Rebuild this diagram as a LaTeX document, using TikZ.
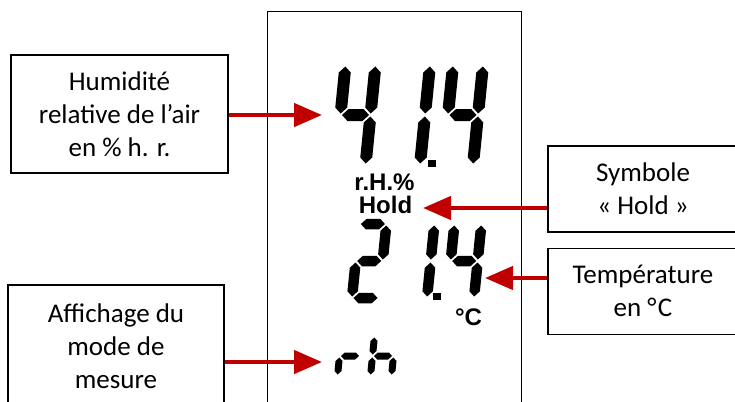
\documentclass[tikz,border=0pt]{standalone}
\usepackage{fontspec}
\usetikzlibrary{arrows.meta,positioning}
\newfontfamily\boxfont{Carlito}
\newfontfamily\lcdfont{Liberation Sans}
\definecolor{arrowred}{HTML}{C00000}

% seven-segment helpers (local units: pt, y up)
\newcommand{\sgap}{1.5}
\newcommand{\segh}[3]{\fill ({#1+\sgap},{#3}) -- ({#1+\sgap+\sht},{#3+\sht})
  -- ({#2-\sgap-\sht},{#3+\sht}) -- ({#2-\sgap},{#3})
  -- ({#2-\sgap-\sht},{#3-\sht}) -- ({#1+\sgap+\sht},{#3-\sht}) -- cycle;}
\newcommand{\segv}[3]{\fill ({#1},{#2+\sgap}) -- ({#1+\sht},{#2+\sgap+\sht})
  -- ({#1+\sht},{#3-\sgap-\sht}) -- ({#1},{#3-\sgap})
  -- ({#1-\sht},{#3-\sgap-\sht}) -- ({#1-\sht},{#2+\sgap+\sht}) -- cycle;}
\newcommand{\sega}{\segh{0}{\dw}{2*\dh}}
\newcommand{\segb}{\segv{\dw}{\dh}{2*\dh}}
\newcommand{\segc}{\segv{\dw}{0}{\dh}}
\newcommand{\segd}{\segh{0}{\dw}{0}}
\newcommand{\sege}{\segv{0}{0}{\dh}}
\newcommand{\segf}{\segv{0}{\dh}{2*\dh}}
\newcommand{\segg}{\segh{0}{\dw}{\dh}}
% origin, width, half height, thickness, segments
\newcommand{\lcddigit}[5]{%
  \begin{scope}[shift={#1},y=1pt,xslant=0.1]
    \def\dw{#2}\def\dh{#3}\pgfmathsetmacro\sht{#4/2}
    \foreach \s in {#5}{\csname seg\s\endcsname}
  \end{scope}}

\begin{document}
\begin{tikzpicture}[x=1pt,y=-1pt,
    callout/.style={draw,line width=1.2pt,align=center,inner sep=0pt,
                    font=\boxfont\fontsize{27}{33}\selectfont},
    lcdlabel/.style={inner sep=0pt,font=\lcdfont\bfseries\fontsize{24}{28}\selectfont},
    pointer/.style={draw=arrowred,line width=4.5pt,
                    -{Triangle[length=28pt,width=23pt]}}]
    \path[use as bounding box,clip] (0,0) rectangle (735,401);

    % display
    \node[draw,line width=1.3pt,minimum width=254pt,minimum height=420pt,
          anchor=north west,inner sep=0pt] (lcd) at (267,11) {};
    \lcddigit{(335.5,165)}{30}{50}{12}{f,g,b,c}
    \lcddigit{(390,165)}{30}{50}{12}{b,c}
    \lcddigit{(443,165)}{30}{50}{12}{f,g,b,c}
    \fill (428,160) rectangle (436,167);
    \node[lcdlabel,anchor=base] (rhunit) at (384.5,190) {r.H.\%};
    \node[lcdlabel,anchor=base] (hold) at (385.5,213) {Hold};
    \lcddigit{(352,298)}{27}{37}{10.5}{a,b,g,e,d}
    \lcddigit{(400,298)}{27}{37}{10.5}{b,c}
    \lcddigit{(447,298)}{27}{37}{10.5}{f,g,b,c}
    \fill (433,293) rectangle (441,300);
    \node[lcdlabel,anchor=base] (degc) at (468.5,325) {°C};
    \lcddigit{(337.5,376)}{21}{20}{7}{e,g}
    \lcddigit{(370.5,376)}{21}{20}{7}{f,e,g,c}

    % callouts
    \node[callout,minimum width=217pt,minimum height=118pt] (humid) at (119.5,114)
         {Humidité\\relative de l’air\\en \% h. r.};
    \node[callout,minimum width=216pt,minimum height=123pt] (mode) at (116,346.5)
         {Affichage du\\mode de\\mesure};
    \node[callout,minimum width=190pt,minimum height=86pt] (symb) at (643,189)
         {Symbole\\«~Hold~»};
    \node[callout,minimum width=190pt,minimum height=86pt,below=15pt of symb] (temp)
         {Température\\en °\kern1.5pt C};

    \coordinate (humtip) at (322,115);
    \coordinate (holdtip) at (423,208);
    \coordinate (temptip) at (485,278);
    \coordinate (modetip) at (322,362);
    \draw[pointer] (humid.east |- humtip) -- (humtip);
    \draw[pointer] (symb.west |- holdtip) -- (holdtip);
    \draw[pointer] (temp.west |- temptip) -- (temptip);
    \draw[pointer] (mode.east |- modetip) -- (modetip);
\end{tikzpicture}
\end{document}
